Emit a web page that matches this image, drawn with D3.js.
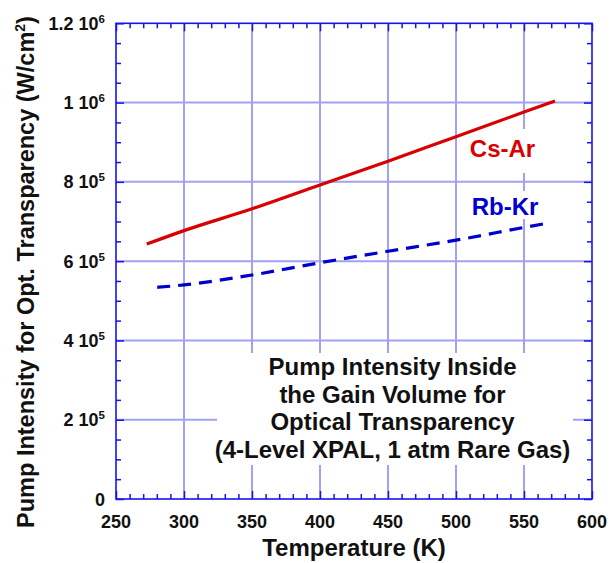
<!DOCTYPE html>
<html>
<head>
<meta charset="utf-8">
<script src="https://cdn.jsdelivr.net/npm/d3@7"></script>
<style>
  body { margin: 0; background: #fff; }
  svg { display: block; font-family: "Liberation Sans", Arial, Helvetica, sans-serif; font-weight: bold; }
</style>
</head>
<body>
<svg id="chart" width="616" height="563"></svg>
<script>
// ---- data ----
const tempCs = [272.6, 300, 350, 400, 450, 500, 550, 572.8];
const csAr   = [643000, 677000, 732000, 792000, 852000, 914000, 976000, 1004000];
const tempRb = [280.3, 300, 350, 400, 450, 500, 550, 569];
const rbKr   = [534000, 540000, 565000, 596000, 625000, 653000, 685000, 697000];

const xTicks = [250, 300, 350, 400, 450, 500, 550, 600];
const yTicks = [0, 200000, 400000, 600000, 800000, 1000000, 1200000];
const yTickMant = ["0", "2", "4", "6", "8", "1", "1.2"];
const yTickExp  = ["", "5", "5", "5", "5", "6", "6"];

const seriesNames = ["Cs-Ar", "Rb-Kr"];
const annotation = ["Pump Intensity Inside", "the Gain Volume for", "Optical Transparency", "(4-Level XPAL, 1 atm Rare Gas)"];
const xTitle = "Temperature (K)";
const yTitle = "Pump Intensity for Opt. Transparency (W/cm";

// ---- layout ----
const L = 116, R = 592, T = 23.3, B = 499;
const svg = d3.select("#chart");
const x = d3.scaleLinear().domain([250, 600]).range([L, R]);
const y = d3.scaleLinear().domain([0, 1200000]).range([B, T]);

const gridColor = "#a2a2f4";
const frameColor = "#1414ee";
const red = "#d80000";
const blue = "#0000cc";

// gridlines
const grid = svg.append("g");
grid.selectAll("line.gx").data(xTicks.slice(1, -1)).join("line")
  .attr("x1", d => x(d)).attr("x2", d => x(d)).attr("y1", T).attr("y2", B)
  .attr("stroke", gridColor).attr("stroke-width", 2);
grid.selectAll("line.gy").data(yTicks.slice(1, -1)).join("line")
  .attr("y1", d => y(d)).attr("y2", d => y(d)).attr("x1", L).attr("x2", R)
  .attr("stroke", gridColor).attr("stroke-width", 2);

// white boxes behind texts
svg.append("rect").attr("x", 217).attr("y", 353).attr("width", 356).attr("height", 112).attr("fill", "#fff");
svg.append("rect").attr("x", 464).attr("y", 129).attr("width", 78).attr("height", 44).attr("fill", "#fff");
svg.append("rect").attr("x", 466).attr("y", 191).attr("width", 78).attr("height", 28).attr("fill", "#fff");

// frame axes with inward ticks
const axB = d3.axisBottom(x).tickValues(d3.range(250, 601, 10)).tickSizeInner(-5).tickSizeOuter(0).tickFormat("");
const axT = d3.axisTop(x).tickValues(d3.range(250, 601, 10)).tickSizeInner(-5).tickSizeOuter(0).tickFormat("");
const axL = d3.axisLeft(y).tickValues(d3.range(0, 1200001, 50000)).tickSizeInner(-5).tickSizeOuter(0).tickFormat("");
const axR = d3.axisRight(y).tickValues(d3.range(0, 1200001, 50000)).tickSizeInner(-5).tickSizeOuter(0).tickFormat("");
const gB = svg.append("g").attr("transform", `translate(0,${B})`).call(axB);
const gT = svg.append("g").attr("transform", `translate(0,${T})`).call(axT);
const gL = svg.append("g").attr("transform", `translate(${L},0)`).call(axL);
const gR = svg.append("g").attr("transform", `translate(${R},0)`).call(axR);
[gB, gT].forEach(g => g.selectAll(".tick line")
  .attr("y2", d => (d % 50 === 0 ? 8 : 5) * (g === gB ? -1 : 1)));
[gL, gR].forEach(g => g.selectAll(".tick line")
  .attr("x2", d => (d % 200000 === 0 ? 8 : 5) * (g === gL ? 1 : -1)));
[gB, gT, gL, gR].forEach(g => {
  g.selectAll("line").attr("stroke", frameColor).attr("stroke-width", 1.5);
  g.select(".domain").remove();
});
svg.append("rect").attr("x", L).attr("y", T).attr("width", R - L).attr("height", B - T)
  .attr("fill", "none").attr("stroke", frameColor).attr("stroke-width", 1.6);

// data lines
const line = d3.line().curve(d3.curveMonotoneX);
svg.append("path")
  .attr("d", line(tempCs.map((t, i) => [x(t), y(csAr[i])])))
  .attr("fill", "none").attr("stroke", red).attr("stroke-width", 3.2);
svg.append("path")
  .attr("d", line(tempRb.map((t, i) => [x(t), y(rbKr[i])])))
  .attr("fill", "none").attr("stroke", blue).attr("stroke-width", 3.2)
  .attr("stroke-dasharray", "13,8");

// tick labels
svg.append("g").selectAll("text").data(xTicks).join("text")
  .attr("x", d => x(d)).attr("y", 528).attr("text-anchor", "middle")
  .attr("font-size", 18).attr("fill", "#111").text(d => d);

const yl = svg.append("g").selectAll("text").data(yTicks).join("text")
  .attr("x", 105).attr("y", d => y(d) + 6.5).attr("text-anchor", "end")
  .attr("font-size", 18).attr("fill", "#111");
yl.each(function(d, i) {
  const t = d3.select(this);
  if (yTickExp[i] === "") { t.text(yTickMant[i]); return; }
  t.append("tspan").text(yTickMant[i] + " 10");
  t.append("tspan").attr("dy", -7).attr("font-size", 11.5).text(yTickExp[i]);
});

// axis titles
svg.append("text").attr("x", 354).attr("y", 556).attr("text-anchor", "middle")
  .attr("font-size", 24).attr("fill", "#111").text(xTitle);
const yt = svg.append("text").attr("transform", "translate(34,272) rotate(-90)")
  .attr("text-anchor", "middle").attr("font-size", 23.5).attr("fill", "#111");
yt.append("tspan").text(yTitle);
yt.append("tspan").attr("dy", -9).attr("font-size", 14).text("2");
yt.append("tspan").attr("dy", 9).text(")");

// series labels
svg.append("text").attr("x", 502.5).attr("y", 157).attr("text-anchor", "middle")
  .attr("font-size", 24).attr("fill", red).text(seriesNames[0]);
svg.append("text").attr("x", 505).attr("y", 215).attr("text-anchor", "middle")
  .attr("font-size", 24).attr("fill", blue).text(seriesNames[1]);

// annotation
svg.append("g").selectAll("text").data(annotation).join("text")
  .attr("x", 392.5).attr("y", (d, i) => 375 + i * 27.7).attr("text-anchor", "middle")
  .attr("font-size", 24).attr("fill", "#111").text(d => d);
</script>
</body>
</html>
